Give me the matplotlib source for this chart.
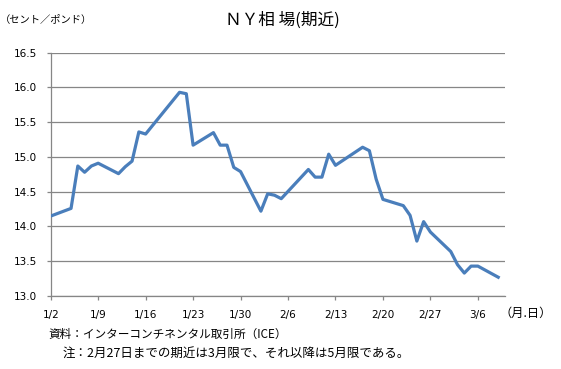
import datetime as dt
import matplotlib
matplotlib.use("Agg")
import matplotlib.pyplot as plt

plt.rcParams['font.family'] = ['Noto Sans CJK JP', 'DejaVu Sans']

# NY sugar (nearby), cents/pound, 2015
dates = ["2015-01-02", "2015-01-05", "2015-01-06", "2015-01-07", "2015-01-08",
         "2015-01-09", "2015-01-12", "2015-01-13", "2015-01-14", "2015-01-15",
         "2015-01-16", "2015-01-21", "2015-01-22", "2015-01-23", "2015-01-26",
         "2015-01-27", "2015-01-28", "2015-01-29", "2015-01-30", "2015-02-02",
         "2015-02-03", "2015-02-04", "2015-02-05", "2015-02-09", "2015-02-10",
         "2015-02-11", "2015-02-12", "2015-02-13", "2015-02-17", "2015-02-18",
         "2015-02-19", "2015-02-20", "2015-02-23", "2015-02-24", "2015-02-25",
         "2015-02-26", "2015-02-27", "2015-03-02", "2015-03-03", "2015-03-04",
         "2015-03-05", "2015-03-06", "2015-03-09"]
prices = [14.15, 14.26, 14.87, 14.78, 14.87,
          14.91, 14.76, 14.86, 14.94, 15.36,
          15.33, 15.93, 15.91, 15.17, 15.35,
          15.17, 15.17, 14.85, 14.79, 14.22,
          14.47, 14.45, 14.40, 14.82, 14.71,
          14.71, 15.04, 14.88, 15.14, 15.09,
          14.68, 14.39, 14.30, 14.16, 13.79,
          14.07, 13.92, 13.64, 13.45, 13.33,
          13.43, 13.43, 13.27]

x = [dt.datetime.strptime(d, "%Y-%m-%d") for d in dates]
start = dt.datetime(2015, 1, 2)
end = dt.datetime(2015, 3, 10)
ticks = [start + dt.timedelta(days=7 * i) for i in range(10)]
tick_labels = [f"{t.month}/{t.day}" for t in ticks]
yticks = [13.0 + 0.5 * i for i in range(8)]

fig = plt.figure(figsize=(5.61, 3.69), dpi=100)
ax = fig.add_axes([50.7 / 561, 1 - 296 / 369, (505 - 50.7) / 561, (296 - 52.7) / 369])

grid_c = '#868686'
ax.plot(x, prices, color='#4A7EBB', lw=2.3, solid_joinstyle='round', zorder=3)

ax.set_xlim(start, end)
ax.set_ylim(13.0, 16.5)
ax.set_yticks(yticks)
ax.set_yticklabels([f"{v:.1f}" for v in yticks], family='DejaVu Sans')
ax.set_xticks(ticks)
ax.set_xticklabels(tick_labels, family='DejaVu Sans')
ax.yaxis.grid(True, color=grid_c, lw=0.9)
ax.set_axisbelow(True)

for s in ['top', 'right']:
    ax.spines[s].set_visible(False)
for s in ['left', 'bottom']:
    ax.spines[s].set_color(grid_c)
    ax.spines[s].set_linewidth(0.9)
ax.tick_params(axis='y', length=3, width=0.9, color=grid_c, pad=7, labelsize=7.5)
ax.tick_params(axis='x', length=3, width=0.9, color=grid_c, pad=7, labelsize=7.5)

fig.text(282 / 561, 1 - 20 / 369, "ＮＹ相 場(期近)", ha='center', va='center', fontsize=12)
fig.text(0 / 561, 1 - 19.5 / 369, "（セント／ポンド）", ha='left', va='center', fontsize=7.4)
fig.text(500 / 561, 1 - 313 / 369, "（月.日）", ha='left', va='center', fontsize=8.8)
fig.text(48 / 561, 1 - 334 / 369, "資料：インターコンチネンタル取引所（ICE）", ha='left', va='center', fontsize=8.4)
fig.text(63 / 561, 1 - 354 / 369, "注：2月27日までの期近は3月限で、それ以降は5月限である。",
         ha='left', va='center', fontsize=9.0)

fig.savefig("out.png", dpi=100, facecolor='white')
